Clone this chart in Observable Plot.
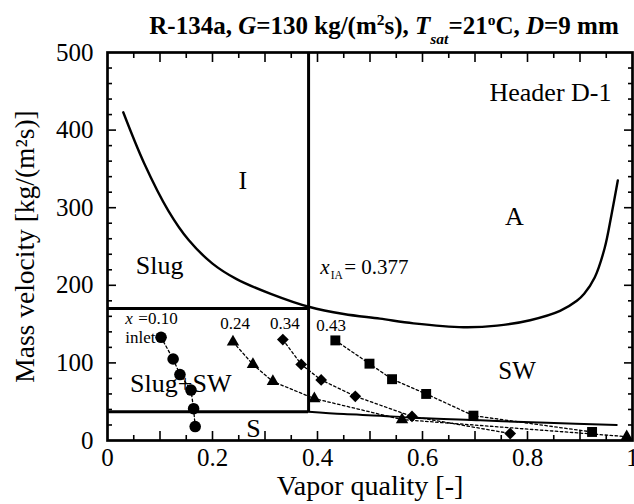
<!DOCTYPE html>
<html><head><meta charset="utf-8">
<script src="https://cdn.jsdelivr.net/npm/d3@7"></script>
<script src="https://cdn.jsdelivr.net/npm/@observablehq/plot@0.6"></script>
<style>
body{margin:0;background:#fff;overflow:hidden}
#wrap{position:relative;width:634px;height:504px;overflow:hidden;background:#fff}
#title{position:absolute;left:384px;top:13px;transform:translateX(-50%);white-space:nowrap;font:bold 25px/25px 'Liberation Serif','Times New Roman',serif;color:#000}
.sup{font-size:0.62em;position:relative;top:-0.6em}
.sub{font-size:0.62em;position:relative;top:0.62em;font-style:italic}
</style></head><body><div id="wrap"></div>
<script>
// ---- tick labels ----
const xTickValues = [0, 0.2, 0.4, 0.6, 0.8, 1];
const yTickValues = [0, 100, 200, 300, 400, 500];
const xMajorTicks = [0.1, 0.2, 0.3, 0.4, 0.5, 0.6, 0.7, 0.8, 0.9];
const xMinorTicks = [0.05, 0.15, 0.25, 0.35, 0.45, 0.55, 0.65, 0.75, 0.85, 0.95];
const yMajorTicks = [100, 200, 300, 400];
const yMinorTicks = [20, 40, 60, 80, 120, 140, 160, 180, 220, 240, 260, 280, 320, 340, 360, 380, 420, 440, 460, 480];

// ---- flow pattern boundaries ----
const xIA = 0.383;
const slugTopG = 170;
const slugSwBottomG = 37;
const iaCurveX = [0.030, 0.070, 0.116, 0.155, 0.200, 0.246, 0.311, 0.385, 0.45, 0.519, 0.583, 0.678, 0.742, 0.805, 0.862, 0.894, 0.908, 0.928, 0.947, 0.960, 0.972];
const iaCurveG = [423, 357, 296, 258, 228, 208, 189, 172, 163, 157, 151, 146, 148, 155, 167, 180, 189, 210, 248, 291, 335];
const swSCurveX = [0.383, 0.45, 0.52, 0.583, 0.71, 0.837, 0.97];
const swSCurveG = [37, 34, 32, 29.3, 26, 22.8, 20];

// ---- measured series (inlet quality) ----
const circleX = [0.102, 0.125, 0.138, 0.159, 0.164, 0.167];
const circleG = [133, 105, 85, 65, 41, 18];
const triangleX = [0.239, 0.277, 0.315, 0.394, 0.561, 0.989];
const triangleG = [127, 98, 76, 54, 27, 5];
const diamondX = [0.334, 0.369, 0.407, 0.472, 0.580, 0.767];
const diamondG = [130, 98, 78, 57, 31, 9];
const squareX = [0.434, 0.499, 0.542, 0.607, 0.697, 0.923];
const squareG = [129, 99, 79, 60, 32, 11];

const pts = (xs, gs) => xs.map((x, i) => ({x, g: gs[i]}));
const iaCurve = pts(iaCurveX, iaCurveG);
const swSCurve = pts(swSCurveX, swSCurveG);
const circles = pts(circleX, circleG);
const triangles = pts(triangleX, triangleG);
const diamonds = pts(diamondX, diamondG);
const squares = pts(squareX, squareG);

const dotted = {x: "x", y: "g", stroke: "black", strokeWidth: 1.3, strokeDasharray: "2.5,2.5"};
const txt = (s, o) => Plot.text([s], {text: d => d, fill: "black", lineAnchor: "bottom", ...o});

const tickMarks = [];
for (const anchor of ["bottom", "top"]) {
  tickMarks.push(Plot.axisX(xMinorTicks, {anchor, tickSize: -5, fill: "none", label: null, strokeWidth: 1.6}));
  tickMarks.push(Plot.axisX(xMajorTicks, {anchor, tickSize: -9, fill: "none", label: null, strokeWidth: 1.6}));
}
for (const anchor of ["left", "right"]) {
  tickMarks.push(Plot.axisY(yMinorTicks, {anchor, tickSize: -5, fill: "none", label: null, strokeWidth: 1.6}));
  tickMarks.push(Plot.axisY(yMajorTicks, {anchor, tickSize: -9, fill: "none", label: null, strokeWidth: 1.6}));
}

const chart = Plot.plot({
  width: 634,
  height: 504,
  marginLeft: 107,
  marginRight: 2,
  marginTop: 52,
  marginBottom: 64,
  style: {fontFamily: "'Liberation Serif','Times New Roman',serif", fontSize: "25px", color: "black", background: "white", overflow: "visible"},
  x: {domain: [0, 1]},
  y: {domain: [0, 500]},
  marks: [
    // boundaries
    Plot.line(iaCurve, {x: "x", y: "g", stroke: "black", strokeWidth: 2.4, curve: "catmull-rom"}),
    Plot.line(swSCurve, {x: "x", y: "g", stroke: "black", strokeWidth: 2, curve: "catmull-rom"}),
    Plot.ruleY([slugTopG, slugSwBottomG], {x1: 0, x2: xIA, stroke: "black", strokeWidth: 3}),
    Plot.ruleX([xIA], {y1: slugSwBottomG, y2: 500, stroke: "black", strokeWidth: 3}),
    // region labels
    txt("I", {x: 0.258, y: 324, fontSize: 26}),
    txt("A", {x: 0.775, y: 278, fontSize: 26}),
    txt("Header D-1", {x: 0.96, y: 438, fontSize: 26, textAnchor: "end"}),
    txt("Slug", {x: 0.054, y: 215, fontSize: 26, textAnchor: "start"}),
    txt("Slug+SW", {x: 0.043, y: 62, fontSize: 26, textAnchor: "start"}),
    txt("S", {x: 0.278, y: 5, fontSize: 26}),
    txt("SW", {x: 0.78, y: 79.5, fontSize: 25}),
    txt("x", {x: 0.405, y: 215, fontSize: 21, textAnchor: "start", fontStyle: "italic"}),
    txt("IA", {x: 0.405, y: 208.4, dx: 10.5, fontSize: 11.5, textAnchor: "start"}),
    txt("= 0.377", {x: 0.405, y: 215, dx: 24, fontSize: 21, textAnchor: "start"}),
    txt("x", {x: 0.034, y: 149.5, fontSize: 17, textAnchor: "start", fontStyle: "italic"}),
    txt("=0.10", {x: 0.034, y: 149.5, dx: 13, fontSize: 17, textAnchor: "start"}),
    txt("inlet", {x: 0.034, y: 125.5, fontSize: 17, textAnchor: "start"}),
    txt("0.24", {x: 0.243, y: 144, fontSize: 17}),
    txt("0.34", {x: 0.338, y: 144, fontSize: 17}),
    txt("0.43", {x: 0.426, y: 140.8, fontSize: 17}),
    // measured series
    Plot.line(circles, dotted),
    Plot.line(triangles, dotted),
    Plot.line(diamonds, dotted),
    Plot.line(squares, dotted),
    Plot.dot(circles, {x: "x", y: "g", symbol: "circle", r: 5.8, fill: "black"}),
    Plot.dot(triangles, {x: "x", y: "g", symbol: "triangle", r: 4.6, fill: "black"}),
    Plot.dot(diamonds, {x: "x", y: "g", symbol: "diamond2", r: 5.3, fill: "black"}),
    Plot.dot(squares, {x: "x", y: "g", symbol: "square", r: 5.6, fill: "black"}),
    // axes
    ...tickMarks,
    Plot.axisX(xTickValues, {anchor: "bottom", tickSize: 0, tickPadding: 8, tickFormat: d => String(d), label: null, fontSize: 25}),
    Plot.axisY(yTickValues, {anchor: "left", tickSize: 0, tickPadding: 14, tickFormat: d => String(d), label: null, fontSize: 25}),
    txt("Vapor quality [-]", {frameAnchor: "bottom", dy: 54, fontSize: 28, textAnchor: "middle"}),
    Plot.text(["Mass velocity [kg/(m²s)]"], {text: d => d, frameAnchor: "left", dx: -82, rotate: -90, fontSize: 27.5, fill: "black", textAnchor: "middle"}),
    Plot.frame({stroke: "black", strokeWidth: 2.7})
  ]
});

const wrap = document.getElementById("wrap");
wrap.appendChild(chart);
const title = document.createElement("div");
title.id = "title";
title.innerHTML = 'R-134a, <i>G</i>=130 kg/(m<span class="sup">2</span>s), <i>T</i><span class="sub">sat</span>=21<span class="sup">o</span>C, <i>D</i>=9 mm';
wrap.appendChild(title);
</script></body></html>
